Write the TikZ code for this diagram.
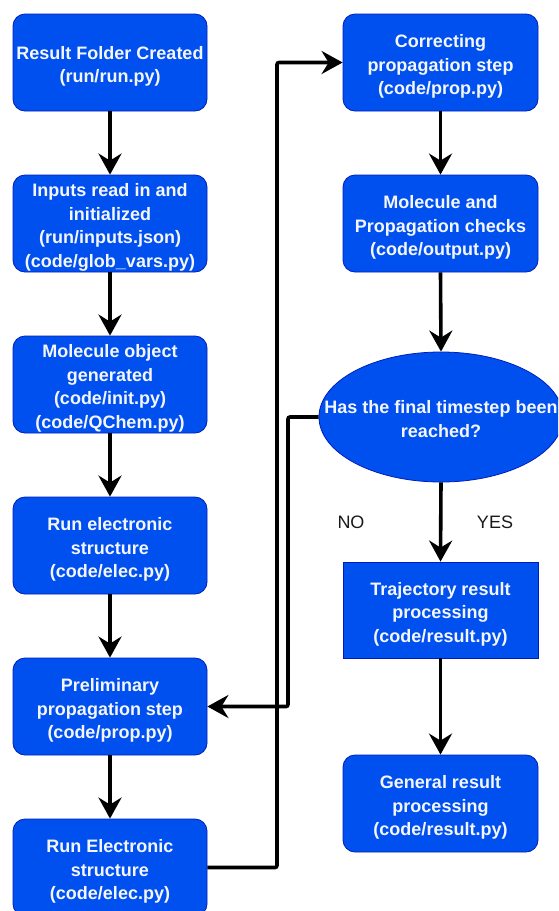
\documentclass[tikz,border=0pt]{standalone}
\usepackage{fontspec}
\setmainfont{Liberation Sans}
\usetikzlibrary{shapes.geometric,arrows.meta}
\definecolor{boxfill}{HTML}{0050EF}
\definecolor{boxline}{HTML}{001DBC}
\definecolor{boxtext}{HTML}{F4F6FF}
\definecolor{labeltext}{HTML}{1A1A1A}
% centred multi-line block, drawn slightly below the geometric centre
\newcommand{\lowered}[1]{\raisebox{-4pt}[\height][\depth]{\begin{tabular}{@{}c@{}}#1\end{tabular}}}
\begin{document}
\begin{tikzpicture}[x=1pt,y=1pt,
  basebox/.style={draw=boxline,fill=boxfill,line width=0.8pt,text=boxtext,
    inner sep=0pt,minimum width=194pt,minimum height=97pt,
    font=\bfseries\fontsize{18}{23.5}\selectfont},
  roundbox/.style={basebox,rounded corners=12pt},
  squarebox/.style={basebox},
  decision/.style={ellipse,draw=boxline,fill=boxfill,line width=0.8pt,
    inner sep=0pt,minimum width=244pt,minimum height=130pt},
  dtext/.style={text=boxtext,inner sep=0pt,
    font=\bfseries\fontsize{18}{23.5}\selectfont},
  arr/.style={line width=3.6pt,-{Stealth[length=21pt,width=23pt,inset=7pt]}},
  lbl/.style={text=labeltext,font=\fontsize{18}{22}\selectfont,inner sep=0pt}]
\clip (0,0) rectangle (558,-911);
\fill[white] (0,0) rectangle (558,-911);

% left column
\node[roundbox] (b1) at (110,-62.5) {\lowered{Result Folder Created\\(run/run.py)}};
\node[roundbox] (b2) at (110,-223.5) {\lowered{Inputs read in and\\initialized\\(run/inputs.json)\\(code/glob\_vars.py)}};
\node[roundbox] (b3) at (110,-384.5) {\lowered{Molecule object\\generated\\(code/init.py)\\(code/QChem.py)}};
\node[roundbox] (b4) at (110,-545.5) {\lowered{Run electronic\\structure\\(code/elec.py)}};
\node[roundbox] (b5) at (110,-706.5) {\lowered{Preliminary\\propagation step\\(code/prop.py)}};
\node[roundbox] (b6) at (110,-867.5) {\lowered{Run Electronic\\structure\\(code/elec.py)}};

% right column
\node[roundbox,minimum width=195pt] (r1) at (440.5,-62.5) {\lowered{Correcting\\propagation step\\(code/prop.py)}};
\node[roundbox,minimum width=195pt] (r2) at (440.5,-223.5) {\lowered{Molecule and\\Propagation checks\\(code/output.py)}};
\node[decision] (d) at (441,-417) {};
\node[dtext] (dt) at (d.center) {\lowered{Has the final timestep been\\reached?}};
\node[squarebox,minimum width=195pt,minimum height=96pt] (r3) at (440.5,-610) {\lowered{Trajectory result\\processing\\(code/result.py)}};
\node[roundbox,minimum width=195pt] (r4) at (440.5,-803.5) {\lowered{General result\\processing\\(code/result.py)}};

% branch labels
\node[lbl] (no) at (351,-522) {NO};
\node[lbl] (yes) at (495,-522) {YES};

% routing columns for the two loop connectors
\coordinate (j1) at (277,0);
\coordinate (j2) at (288,0);

% straight flow
\draw[arr] (b1.south) -- (b2.north);
\draw[arr] (b2.south) -- (b3.north);
\draw[arr] (b3.south) -- (b4.north);
\draw[arr] (b4.south) -- (b5.north);
\draw[arr] (b5.south) -- (b6.north);
\draw[arr] (r1.south) -- (r2.north);
\draw[arr] (r2.south) -- (d.north);
\draw[arr] (d.south) -- (r3.north);
\draw[arr] (r3.south) -- (r4.north);

% loops
\draw[arr,rounded corners=2pt] (b6.east) -- (b6.east -| j1) -- (r1.west -| j1) -- (r1.west);
\draw[arr,rounded corners=2pt] (d.west) -- (d.west -| j2) -- (b5.east -| j2) -- (b5.east);
\end{tikzpicture}
\end{document}
